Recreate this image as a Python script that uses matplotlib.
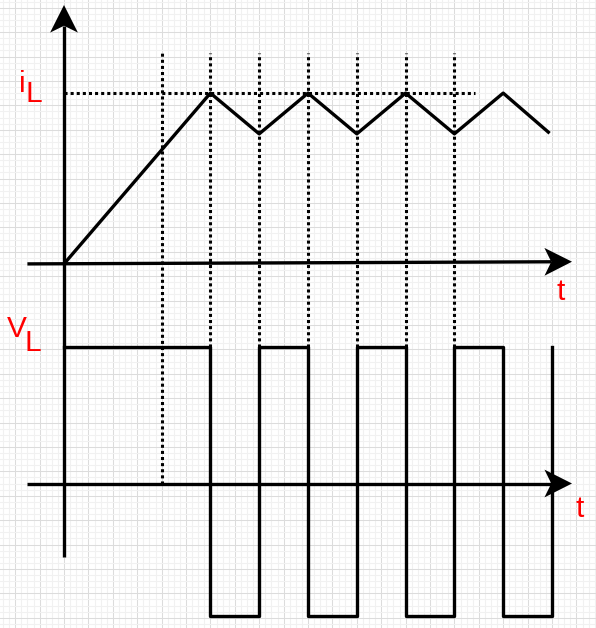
import numpy as np
from matplotlib import pyplot as plt
from matplotlib.patches import Polygon

# 数据（单位：网格格数，1 格 ≈ 24.4 像素）
il_t = [0, 6, 8, 10, 12, 14, 16, 18, 19.85]          # 电感电流折点时间
il_v = [0, 7, 5.33, 7, 5.33, 7, 5.33, 7, 5.4]        # 电感电流折点数值
il_base = 9.0                                        # iL 坐标轴的纵向位置

vl_t = [0, 6, 8, 10, 12, 14, 16, 18, 20]             # 电感电压跳变时间
vl_v = [5.6, -5.45, 5.6, -5.45, 5.6, -5.45, 5.6, -5.45, 5.6]

guide_t = [4, 6, 8, 10, 12, 14, 16]                  # 虚线竖线位置
guide_top = 17.65
peak_line_end = 16.85

red = '#ff0000'
lw = 2.4


def arrow(ax, tail, tip, length=1.13, notch=0.85, half=0.57):
    # 画带凹口的箭头
    tail = np.array(tail, float)
    tip = np.array(tip, float)
    d = (tip - tail) / np.hypot(*(tip - tail))
    n = np.array([-d[1], d[0]])
    base = tip - d * notch
    ax.plot([tail[0], base[0]], [tail[1], base[1]], color='black', lw=lw,
            solid_capstyle='butt', zorder=4)
    pts = [tip, tip - d * length + n * half, base, tip - d * length - n * half]
    ax.add_patch(Polygon(pts, closed=True, facecolor='black', edgecolor='none', zorder=5))


fig = plt.figure(figsize=(5.96, 6.28), dpi=100)
ax = fig.add_axes([0, 0, 1, 1])
unit = 24.4
for s in ax.spines.values():
    s.set_visible(False)

# 背景网格
ax.set_xticks(np.arange(-3, 23))
ax.set_xticks(np.arange(-3, 23, 0.25), minor=True)
ax.set_yticks(np.arange(-6.5, 21, 1))
ax.set_yticks(np.arange(-6.5, 21, 0.25), minor=True)
ax.tick_params(which='both', length=0, labelbottom=False, labelleft=False)
ax.grid(which='minor', color='#f1f1f1', lw=0.75)
ax.grid(which='major', color='#dcdcdc', lw=0.75)
ax.set_axisbelow(True)

# 坐标轴
arrow(ax, (0, -3), (0, 19.61))
arrow(ax, (-1.5, il_base), (20.82, il_base + 0.09))
arrow(ax, (-1.5, 0), (20.82, 0))

# 虚线辅助线
dot = dict(color='black', lw=2.2, linestyle=(0, (1, 1)), zorder=3)
for t in guide_t:
    bottom = 0 if t == guide_t[0] else max(vl_v)
    ax.plot([t, t], [bottom, guide_top], **dot)
ax.plot([0, peak_line_end], [il_base + max(il_v)] * 2, **dot)

# 电感电流三角波
ax.plot(il_t, [il_base + v for v in il_v], color='black', lw=lw, zorder=4)

# 电感电压方波
ax.plot(vl_t, vl_v, color='black', lw=lw, drawstyle='steps-post', zorder=4)

# 文字标签
fnt = dict(color=red, fontsize=21.5, family=['Liberation Sans', 'DejaVu Sans'],
           va='baseline', ha='left', zorder=6)
ax.text(-1.84, 16.04, 'i', **fnt)
ax.text(-1.56, 15.63, 'L', **fnt)
ax.text(-2.34, 6.0, 'V', **fnt)
ax.text(-1.6, 5.43, 'L', **fnt)
ax.text(20.2, 7.52, 't', **fnt)
ax.text(20.98, -1.37, 't', **fnt)

# 刻度设置完之后再定范围，否则会被刻度撑大
ax.set_xlim(-64 / unit, (596 - 64) / unit)
ax.set_ylim((483.5 - 628) / unit, 483.5 / unit)

fig.savefig('out.png', dpi=100)
